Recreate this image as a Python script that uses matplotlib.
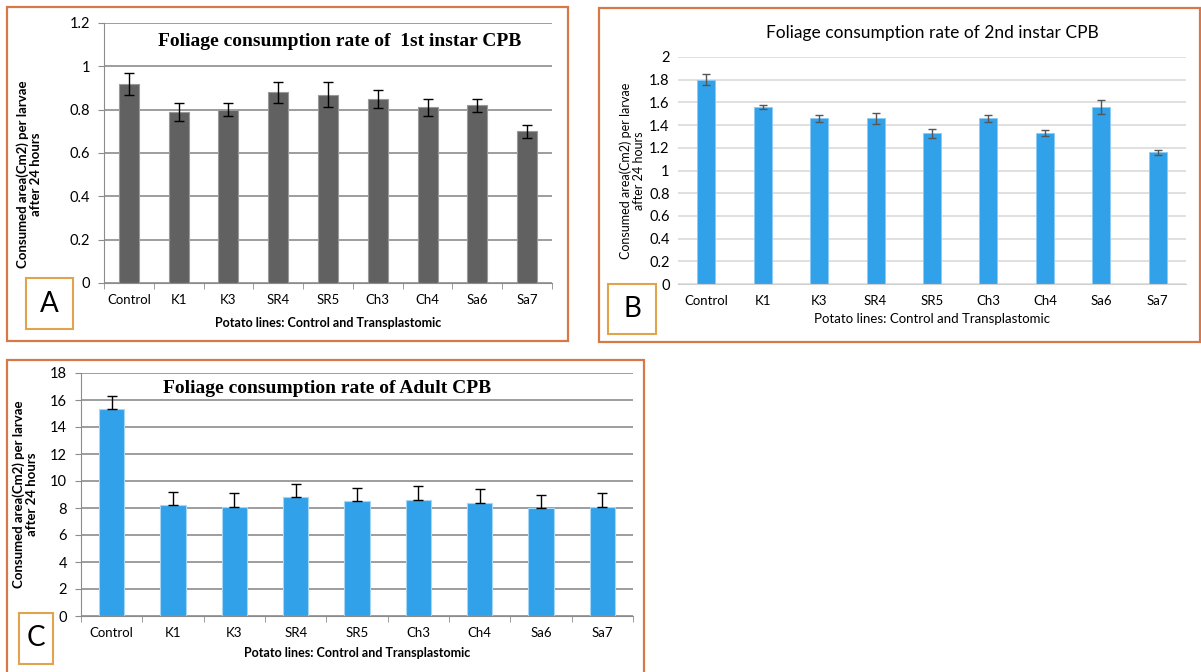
import numpy as np
import matplotlib.pyplot as plt
from matplotlib.patches import Rectangle
from matplotlib.ticker import FormatStrFormatter, FixedLocator

lines = ['Control', 'K1', 'K3', 'SR4', 'SR5', 'Ch3', 'Ch4', 'Sa6', 'Sa7']

# 1st instar larvae
first_mean = [0.92, 0.79, 0.80, 0.88, 0.87, 0.85, 0.81, 0.82, 0.70]
first_err = [0.05, 0.04, 0.03, 0.05, 0.06, 0.04, 0.04, 0.03, 0.03]

# 2nd instar larvae
second_mean = [1.80, 1.56, 1.46, 1.46, 1.33, 1.46, 1.33, 1.56, 1.16]
second_err = [0.05, 0.02, 0.03, 0.05, 0.04, 0.03, 0.03, 0.06, 0.02]

# adults
adult_mean = [15.3, 8.2, 8.1, 8.8, 8.5, 8.6, 8.4, 8.0, 8.1]
adult_err = [1.0, 1.0, 1.0, 1.0, 1.0, 1.0, 1.0, 1.0, 1.0]

W, H = 1201, 672
fig = plt.figure(figsize=(W / 100, H / 100), dpi=100)

sans = 'Lato'
serif = 'Liberation Serif'
ylab = 'Consumed area(Cm2) per larvae\nafter 24 hours'
xlab = 'Potato lines: Control and Transplastomic'


def px_axes(x0, y0, x1, y1):
    return fig.add_axes([x0 / W, 1 - y1 / H, (x1 - x0) / W, (y1 - y0) / H])


def frame(x0, y0, x1, y1, color, lw):
    fig.patches.append(Rectangle((x0 / W, 1 - y1 / H), (x1 - x0) / W, (y1 - y0) / H,
                                 transform=fig.transFigure, fill=False,
                                 edgecolor=color, lw=lw, zorder=0))


def letter(x0, y0, x1, y1, s):
    frame(x0, y0, x1, y1, '#e0a54c', 1.5)
    fig.text((x0 + x1) / 2 / W, 1 - (y0 + y1) / 2 / H, s, ha='center', va='center',
             fontsize=20, family=sans)


def excel_axes(ax, ymax, step, grid_c):
    x = np.arange(len(lines))
    ax.set_xlim(-0.5, len(lines) - 0.5)
    ax.set_ylim(0, ymax)
    ax.set_yticks(np.arange(0, ymax + step / 2, step))
    ax.yaxis.set_major_formatter(FormatStrFormatter('%g'))
    ax.set_xticks(x)
    ax.set_xticklabels(lines, fontsize=9.5, family=sans)
    ax.grid(axis='y', color=grid_c, lw=1.2, zorder=0)
    ax.set_axisbelow(True)
    for s in ['top', 'right']:
        ax.spines[s].set_visible(False)
    ax.tick_params(axis='x', length=0, pad=8)
    ax.tick_params(axis='y', labelsize=10.5, pad=6)
    for t in ax.get_yticklabels():
        t.set_family(sans)
    return x


# ---------- A ----------
frame(7, 7, 568, 341, '#d6784a', 1.6)
axA = px_axes(104, 23, 552, 283)
x = excel_axes(axA, 1.2, 0.2, '#8c8c8c')
axA.bar(x, first_mean, 0.4, color='#616161', edgecolor='#9a9a9a', lw=0.8, zorder=2)
axA.errorbar(x, first_mean, yerr=first_err, fmt='none', ecolor='black', elinewidth=1,
             capsize=3.5, capthick=1, zorder=3)
axA.spines['left'].set_color('#8c8c8c')
axA.spines['bottom'].set_color('#8c8c8c')
axA.tick_params(axis='y', length=4, color='#8c8c8c')
axA.xaxis.set_minor_locator(FixedLocator(np.arange(-0.5, len(lines), 1)))
axA.tick_params(axis='x', which='minor', length=4, color='#8c8c8c')
axA.text(0.527, 0.93, 'Foliage consumption rate of  1st instar CPB', transform=axA.transAxes,
         ha='center', va='center', fontsize=14, fontweight='bold', family=serif)
axA.set_ylabel(ylab, fontsize=9.5, fontweight='bold', family=sans, linespacing=1.1)
axA.yaxis.set_label_coords(-0.138, 0.42)
axA.set_xlabel(xlab, fontsize=9, fontweight='bold', family=sans, labelpad=8)
letter(26, 278, 73, 329, 'A')

# ---------- B ----------
frame(599, 8, 1200, 342, '#d6784a', 1.6)
axB = px_axes(678, 57, 1186, 284)
x = excel_axes(axB, 2.0, 0.2, '#dadada')
axB.bar(x, second_mean, 0.32, color='#31a2ea', edgecolor='#8ccaf4', lw=0.6, zorder=2)
axB.errorbar(x, second_mean, yerr=second_err, fmt='none', ecolor='#555555', elinewidth=1,
             capsize=3, capthick=1, zorder=3)
axB.spines['left'].set_visible(False)
axB.spines['bottom'].set_color('#d0d0d0')
axB.tick_params(axis='y', length=0)
axB.set_title('Foliage consumption rate of 2nd instar CPB', fontsize=12.5, family=sans, pad=14)
axB.set_ylabel(ylab, fontsize=9, family=sans, linespacing=1.1)
axB.yaxis.set_label_coords(-0.065, 0.5)
axB.set_xlabel(xlab, fontsize=9.5, family=sans, labelpad=4)
letter(608, 284, 656, 334, 'B')

# ---------- C ----------
frame(7, 360, 644, 690, '#d6784a', 1.6)
axC = px_axes(81, 373, 633, 616)
x = excel_axes(axC, 18, 2, '#8c8c8c')
axC.bar(x, adult_mean, 0.41, color='#31a2ea', edgecolor='#a6d6f6', lw=0.8, zorder=2)
axC.errorbar(x, adult_mean, yerr=[np.zeros(len(adult_err)), adult_err], fmt='none',
             ecolor='black', elinewidth=1, capsize=3.5, capthick=1, zorder=3)
axC.spines['left'].set_color('#8c8c8c')
axC.spines['bottom'].set_color('#8c8c8c')
axC.tick_params(axis='y', length=4, color='#8c8c8c')
axC.xaxis.set_minor_locator(FixedLocator(np.arange(-0.5, len(lines), 1)))
axC.tick_params(axis='x', which='minor', length=4, color='#8c8c8c')
axC.text(0.445, 0.935, 'Foliage consumption rate of Adult CPB', transform=axC.transAxes,
         ha='center', va='center', fontsize=14, fontweight='bold', family=serif)
axC.set_ylabel(ylab, fontsize=9.5, fontweight='bold', family=sans, linespacing=1.1)
axC.yaxis.set_label_coords(-0.078, 0.5)
axC.set_xlabel(xlab, fontsize=9, fontweight='bold', family=sans, labelpad=6)
letter(19, 613, 53, 664, 'C')

fig.savefig('out.png', dpi=100)
